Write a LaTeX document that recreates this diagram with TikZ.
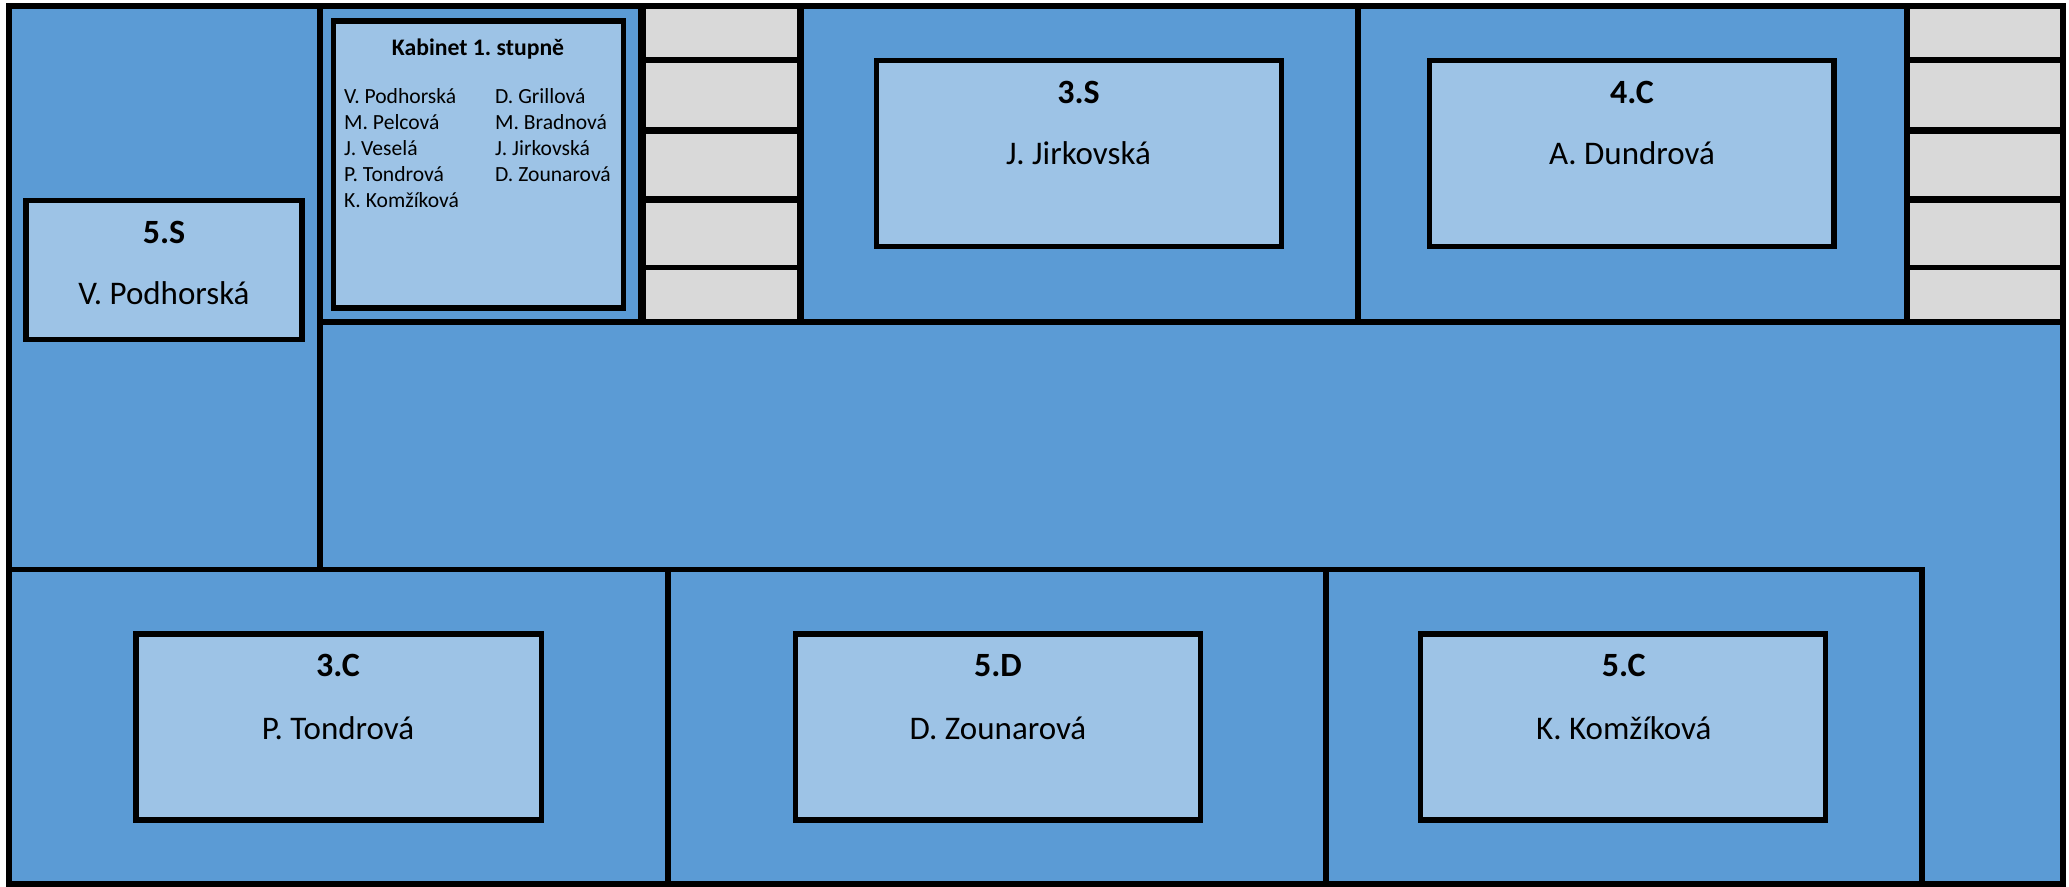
\documentclass[tikz,border=0pt]{standalone}
\usepackage{fontspec}
\setmainfont{Carlito}
\definecolor{roomblue}{HTML}{5B9BD5}
\definecolor{boxblue}{HTML}{9DC3E6}
\definecolor{stairgray}{HTML}{D9D9D9}
\tikzset{
  x=1pt,y=-1pt,
  wall/.style={draw=black,line width=5.5pt,line cap=butt},
  classbox/.style={draw=black,fill=boxblue,line width=5.5pt},
  cls/.style={anchor=base,inner sep=0pt,font=\frenchspacing\fontsize{34}{40}\selectfont\bfseries},
  tch/.style={anchor=base,inner sep=0pt,font=\frenchspacing\fontsize{33}{40}\selectfont},
  small/.style={anchor=base west,inner sep=0pt,font=\frenchspacing\fontsize{21.6}{26}\selectfont},
  smallb/.style={anchor=base,inner sep=0pt,font=\frenchspacing\fontsize{23.7}{28}\selectfont\bfseries},
}
\begin{document}
\begin{tikzpicture}
\useasboundingbox (0,0) rectangle (2069,886);
\fill[white] (0,0) rectangle (2069,886);
\fill[roomblue] (9,6) rectangle (2063,884);
% gray stair blocks
\fill[stairgray] (642,6) rectangle (800.5,322);
\fill[stairgray] (1907,6) rectangle (2063,322);
% outer wall
\draw[wall] (9,6) rectangle (2063,884);
% walls
\draw[wall] (320,6) -- (320,569.5);
\draw[wall] (320,322) -- (2063,322);
\draw[wall] (9,569.5) -- (1924.5,569.5);
\draw[wall] (668,567) -- (668,884);
\draw[wall] (1326,567) -- (1326,884);
\draw[wall] (1922,567) -- (1922,884);
\draw[wall,line width=8pt] (642,6) -- (642,322);
\draw[wall,line width=7pt] (800.5,6) -- (800.5,322);
\draw[wall] (1358,6) -- (1358,322);
\draw[wall] (1907,6) -- (1907,322);
% stair treads
\draw[wall,line width=6.5pt] (642,60) -- (800.5,60);
\draw[wall,line width=7pt] (642,130.5) -- (800.5,130.5);
\draw[wall,line width=7pt] (642,199.5) -- (800.5,199.5);
\draw[wall,line width=5pt] (642,267.5) -- (800.5,267.5);
\draw[wall,line width=6.5pt] (1907,60) -- (2063,60);
\draw[wall,line width=7pt] (1907,130.5) -- (2063,130.5);
\draw[wall,line width=7pt] (1907,199.5) -- (2063,199.5);
\draw[wall,line width=5pt] (1907,267.5) -- (2063,267.5);
% class boxes
\draw[classbox] (26,200.5) rectangle (302,339.5);
\draw[classbox] (333.6,21) rectangle (623.5,308);
\draw[classbox] (876.5,60.5) rectangle (1281.5,246.5);
\draw[classbox] (1429.5,60.5) rectangle (1834,246.5);
\draw[classbox] (136,634) rectangle (541.5,820);
\draw[classbox] (795.5,634) rectangle (1200.5,820);
\draw[classbox] (1420.5,634) rectangle (1825.5,820);
% labels
\node[cls] (c5s) at (164,243) {5.S};
\node[tch] (t5s) at (164,304.5) {V. Podhorská};
\node[cls] (c3s) at (1078.5,103) {3.S};
\node[tch] (t3s) at (1078.5,164.5) {J. Jirkovská};
\node[cls] (c4c) at (1632,103) {4.C};
\node[tch] (t4c) at (1632,164.5) {A. Dundrová};
\node[cls] (c3c) at (338,676) {3.C};
\node[tch] (t3c) at (338,739.5) {P. Tondrová};
\node[cls] (c5d) at (998,676) {5.D};
\node[tch] (t5d) at (998,739.5) {D. Zounarová};
\node[cls] (c5c) at (1623.7,676) {5.C};
\node[tch] (t5c) at (1623.7,739.5) {K. Komžíková};
\node[smallb] (kab) at (478,55) {Kabinet 1. stupně};
\node[small] (k1) at (344,103) {V. Podhorská};
\node[small] (k2) at (344,129) {M. Pelcová};
\node[small] (k3) at (344,155) {J. Veselá};
\node[small] (k4) at (344,181) {P. Tondrová};
\node[small] (k5) at (344,207) {K. Komžíková};
\node[small] (k6) at (495,103) {D. Grillová};
\node[small] (k7) at (495,129) {M. Bradnová};
\node[small] (k8) at (495,155) {J. Jirkovská};
\node[small] (k9) at (495,181) {D. Zounarová};
\end{tikzpicture}
\end{document}
